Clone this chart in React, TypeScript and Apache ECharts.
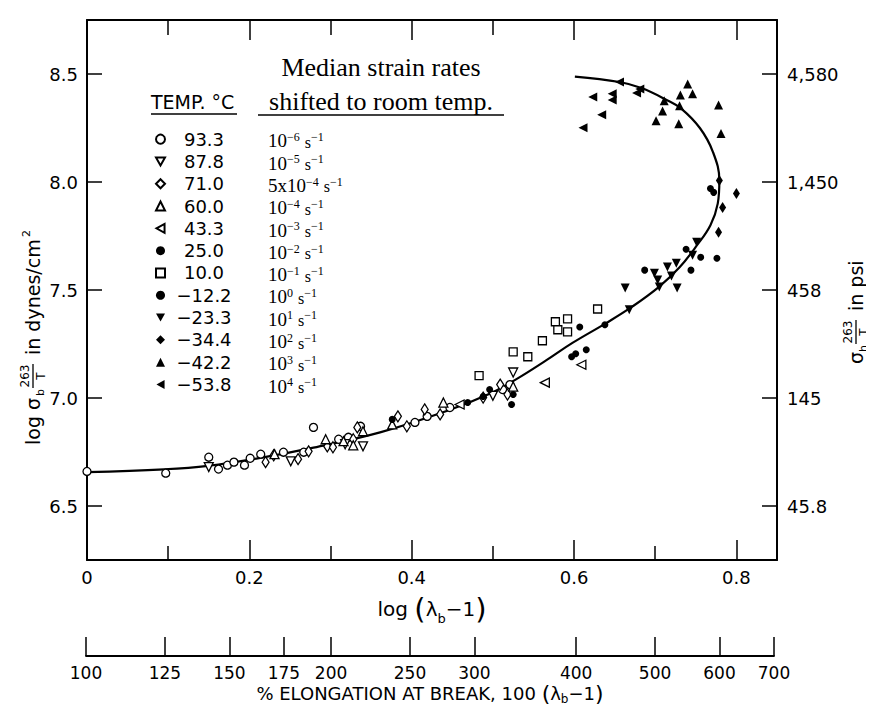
import React, { useEffect, useRef } from "react";
import * as echarts from "echarts";

// ---------- data ----------
const temps = ["93.3", "87.8", "71.0", "60.0", "43.3", "25.0", "10.0", "−12.2", "−23.3", "−34.4", "−42.2", "−53.8"];
const rateBases = ["10", "10", "5x10", "10", "10", "10", "10", "10", "10", "10", "10", "10"];
const rateExps = ["−6", "−5", "−4", "−4", "−3", "−2", "−1", "0", "1", "2", "3", "4"];

const s93_3 = [[0.0, 6.66], [0.097, 6.652], [0.15, 6.726], [0.162, 6.671], [0.173, 6.689], [0.181, 6.703], [0.194, 6.689], [0.201, 6.721], [0.214, 6.74], [0.242, 6.749], [0.267, 6.749], [0.279, 6.864], [0.31, 6.809], [0.322, 6.818], [0.337, 6.869], [0.404, 6.887], [0.419, 6.915], [0.447, 6.956], [0.512, 7.039], [0.521, 7.062]];
const s87_8 = [[0.15, 6.68], [0.251, 6.707], [0.318, 6.786], [0.34, 6.776], [0.5, 7.01], [0.525, 7.118]];
const s71_0 = [[0.22, 6.703], [0.23, 6.735], [0.26, 6.717], [0.273, 6.753], [0.296, 6.776], [0.303, 6.772], [0.328, 6.809], [0.333, 6.864], [0.383, 6.915], [0.394, 6.869], [0.416, 6.947], [0.435, 6.924], [0.488, 7.002], [0.509, 7.062], [0.518, 7.016]];
const s60_0 = [[0.231, 6.74], [0.294, 6.809], [0.316, 6.8], [0.328, 6.781], [0.34, 6.846], [0.376, 6.878], [0.439, 6.979], [0.525, 7.053]];
const s43_3 = [[0.459, 6.97], [0.564, 7.071], [0.609, 7.154]];
const s25_0 = [[0.376, 6.901], [0.469, 6.979], [0.488, 7.007], [0.496, 7.039], [0.523, 6.97], [0.525, 7.016], [0.597, 7.191], [0.602, 7.205], [0.615, 7.223], [0.607, 7.329]];
const s10_0 = [[0.483, 7.104], [0.525, 7.214], [0.543, 7.191], [0.561, 7.265], [0.577, 7.353], [0.58, 7.316], [0.592, 7.366], [0.592, 7.306], [0.629, 7.412]];
const sm12_2 = [[0.638, 7.339], [0.687, 7.592], [0.738, 7.689], [0.744, 7.592], [0.756, 7.652], [0.776, 7.647], [0.768, 7.97], [0.772, 7.952]];
const sm23_3 = [[0.663, 7.509], [0.668, 7.408], [0.699, 7.578], [0.703, 7.546], [0.705, 7.514], [0.715, 7.606], [0.72, 7.565], [0.726, 7.624], [0.727, 7.509], [0.746, 7.661], [0.751, 7.721]];
const sm34_4 = [[0.8, 7.947], [0.783, 7.882], [0.778, 7.767], [0.779, 8.007]];
const sm42_2 = [[0.701, 8.283], [0.709, 8.329], [0.711, 8.376], [0.729, 8.27], [0.73, 8.353], [0.731, 8.403], [0.74, 8.454], [0.746, 8.408], [0.778, 8.357], [0.781, 8.224]];
const sm53_8 = [[0.611, 8.251], [0.623, 8.394], [0.634, 8.311], [0.647, 8.408], [0.647, 8.38], [0.656, 8.463], [0.677, 8.412], [0.681, 8.431]];
const seriesData = [s93_3, s87_8, s71_0, s60_0, s43_3, s25_0, s10_0, sm12_2, sm23_3, sm34_4, sm42_2, sm53_8];

const curveX = [0, 0.095, 0.149, 0.217, 0.279, 0.361, 0.443, 0.496, 0.528, 0.566, 0.598, 0.64, 0.672, 0.705, 0.73, 0.751, 0.768, 0.777, 0.779, 0.771, 0.755, 0.732, 0.714, 0.683, 0.656, 0.601];
const curveY = [6.657, 6.67, 6.686, 6.725, 6.77, 6.841, 6.94, 7.02, 7.085, 7.175, 7.255, 7.348, 7.424, 7.516, 7.605, 7.705, 7.8, 7.9, 8.007, 8.14, 8.25, 8.34, 8.38, 8.435, 8.463, 8.488];

const yTicks = [6.5, 7.0, 7.5, 8.0, 8.5];
const psiLabels = ["45.8", "145", "458", "1,450", "4,580"];
const xMajorTicks = [0, 0.2, 0.4, 0.6, 0.8];
const xMinorTicks = [0.1, 0.3, 0.5, 0.7];
const elongationTicks = [100, 125, 150, 175, 200, 250, 300, 400, 500, 600, 700];

// ---------- styles ----------
const TRI_DOWN = "path://M0,0L10,0L5,9Z";
const TRI_LEFT = "path://M0,5L9,0L9,10Z";
const symbolShapes = ["circle", TRI_DOWN, "diamond", "triangle", TRI_LEFT, "circle", "rect", "circle", TRI_DOWN, "diamond", "triangle", TRI_LEFT];
const symbolHollow = [true, true, true, true, true, false, true, false, false, false, false, false];
const symbolSizes: any[] = [8, 9, [7, 11], 9, 9, 7, 8, 7, 9, [7, 11], 9, 9];

const SANS = "DejaVu Sans";
const SERIF = "Liberation Serif";

export default function App() {
  const ref = useRef<HTMLDivElement>(null);
  useEffect(() => {
    if (!ref.current) return;
    const chart = echarts.init(ref.current, undefined, { renderer: "svg" });

    const G0 = { left: 87, top: 20, width: 690, height: 540 };
    const XMAX = 0.85;

    const scatter = temps.map((t, i) => ({
      name: t,
      type: "scatter",
      xAxisIndex: 0,
      yAxisIndex: 0,
      data: seriesData[i],
      symbol: symbolShapes[i],
      symbolSize: symbolSizes[i],
      z: 4,
      itemStyle: symbolHollow[i]
        ? { color: "#fff", borderColor: "#000", borderWidth: 1.3, opacity: 1 }
        : { color: "#000", borderColor: "#000", borderWidth: 0, opacity: 1 },
    }));

    const curve = {
      name: "fit",
      type: "line",
      xAxisIndex: 0,
      yAxisIndex: 0,
      data: curveX.map((x, i) => [x, curveY[i]]),
      smooth: 0.4,
      showSymbol: false,
      symbol: "none",
      lineStyle: { color: "#000", width: 2.2 },
      z: 2,
    };

    const LH = 22.3;
    const legendRich: any = {
      t: { fontFamily: SANS, fontSize: 18, width: 68, align: "right", color: "#000", lineHeight: LH, verticalAlign: "middle" },
      g: { width: 30 },
      b: { fontFamily: SERIF, fontSize: 19, color: "#000", lineHeight: LH, verticalAlign: "bottom" },
      s: { fontFamily: SERIF, fontSize: 12, color: "#000", lineHeight: 12, verticalAlign: "top", padding: [3, 0, 0, 0] },
      u: { fontFamily: SERIF, fontSize: 16, color: "#000", lineHeight: LH, verticalAlign: "bottom", padding: [0, 0, 0, 5] },
    };

    const axisLine = { show: true, onZero: false, lineStyle: { color: "#000", width: 2 } };

    const leftName = {
      type: "group",
      x: 33,
      y: 295,
      rotation: Math.PI / 2,
      children: [
        { type: "text", x: -150, y: 0, style: { text: "log σ", fontFamily: SANS, fontSize: 19, fill: "#000", align: "left", verticalAlign: "middle" } },
        { type: "text", x: -101, y: 7, style: { text: "b", fontFamily: SANS, fontSize: 11, fill: "#000", align: "left", verticalAlign: "middle" } },
        { type: "text", x: -81, y: -8, style: { text: "263", fontFamily: SANS, fontSize: 12, fill: "#000", align: "center", verticalAlign: "middle" } },
        { type: "line", shape: { x1: -93, y1: 0, x2: -69, y2: 0 }, style: { stroke: "#000", lineWidth: 1.3 } },
        { type: "text", x: -81, y: 8, style: { text: "T", fontFamily: SANS, fontSize: 12, fill: "#000", align: "center", verticalAlign: "middle" } },
        { type: "text", x: -60, y: 0, style: { text: "in dynes/cm", fontFamily: SANS, fontSize: 19, fill: "#000", align: "left", verticalAlign: "middle" } },
        { type: "text", x: 58, y: -7, style: { text: "2", fontFamily: SANS, fontSize: 11, fill: "#000", align: "left", verticalAlign: "middle" } },
      ],
    };

    const rightName = {
      type: "group",
      x: 856,
      y: 298,
      rotation: Math.PI / 2,
      children: [
        { type: "text", x: -66, y: 0, style: { text: "σ", fontFamily: SANS, fontSize: 19, fill: "#000", align: "left", verticalAlign: "middle" } },
        { type: "text", x: -54, y: 7, style: { text: "h", fontFamily: SANS, fontSize: 11, fill: "#000", align: "left", verticalAlign: "middle" } },
        { type: "text", x: -34, y: -8, style: { text: "263", fontFamily: SANS, fontSize: 12, fill: "#000", align: "center", verticalAlign: "middle" } },
        { type: "line", shape: { x1: -46, y1: 0, x2: -22, y2: 0 }, style: { stroke: "#000", lineWidth: 1.3 } },
        { type: "text", x: -34, y: 8, style: { text: "T", fontFamily: SANS, fontSize: 12, fill: "#000", align: "center", verticalAlign: "middle" } },
        { type: "text", x: -13, y: 0, style: { text: "in psi", fontFamily: SANS, fontSize: 19, fill: "#000", align: "left", verticalAlign: "middle" } },
      ],
    };

    const option: any = {
      animation: false,
      backgroundColor: "#fff",
      grid: [
        { ...G0, containLabel: false },
        { left: 86, top: 655, width: 688, height: 1, containLabel: false },
        { ...G0, containLabel: false },
      ],
      xAxis: [
        {
          gridIndex: 0, type: "value", position: "bottom", min: 0, max: XMAX,
          axisLine,
          axisTick: { show: true, inside: true, length: 20, customValues: xMajorTicks.slice(1), lineStyle: { color: "#000", width: 1.5 } },
          axisLabel: { show: true, customValues: xMajorTicks, margin: 8, fontFamily: SANS, fontSize: 18, color: "#000", formatter: (v: number) => (v === 0 ? "0" : v.toFixed(1)) },
          splitLine: { show: false },
          name: "{a|log }{p|(}{a|λ}{s|b}{a|−1}{p|)}",
          nameLocation: "middle",
          nameGap: 33,
          nameTextStyle: {
            rich: {
              a: { fontFamily: SANS, fontSize: 20, color: "#000", lineHeight: 32, verticalAlign: "middle" },
              p: { fontFamily: SANS, fontSize: 29, color: "#000", lineHeight: 32, verticalAlign: "middle" },
              s: { fontFamily: SANS, fontSize: 13, color: "#000", lineHeight: 14, verticalAlign: "bottom" },
            },
          },
        },
        {
          gridIndex: 0, type: "value", position: "top", min: 0, max: XMAX,
          axisLine,
          axisTick: { show: true, inside: true, length: 20, customValues: xMajorTicks.slice(1), lineStyle: { color: "#000", width: 1.5 } },
          axisLabel: { show: false },
          splitLine: { show: false },
        },
        {
          gridIndex: 1, type: "value", position: "bottom", min: 0, max: Math.log10(7),
          axisLine: { show: true, onZero: false, lineStyle: { color: "#000", width: 1.8 } },
          axisTick: { show: true, inside: true, length: 19, customValues: elongationTicks.map((v) => Math.log10(v / 100)), lineStyle: { color: "#000", width: 1.5 } },
          axisLabel: {
            show: true, customValues: elongationTicks.map((v) => Math.log10(v / 100)), margin: 8,
            fontFamily: SANS, fontSize: 17, color: "#000",
            formatter: (v: number) => String(Math.round(100 * Math.pow(10, v))),
          },
          splitLine: { show: false },
          name: "% ELONGATION AT BREAK, 100 {p|(}λ{s|b}−1{p|)}",
          nameLocation: "middle",
          nameGap: 25,
          nameTextStyle: {
            fontFamily: SANS, fontSize: 18, color: "#000",
            rich: {
              p: { fontFamily: SANS, fontSize: 22, color: "#000", lineHeight: 24, verticalAlign: "middle" },
              s: { fontFamily: SANS, fontSize: 12, color: "#000", lineHeight: 12, verticalAlign: "bottom" },
            },
          },
        },
        {
          gridIndex: 2, type: "value", position: "bottom", min: 0, max: XMAX,
          axisLine: { show: false },
          axisTick: { show: true, inside: true, length: 14, customValues: xMinorTicks, lineStyle: { color: "#000", width: 1.5 } },
          axisLabel: { show: false },
          splitLine: { show: false },
        },
        {
          gridIndex: 2, type: "value", position: "top", min: 0, max: XMAX,
          axisLine: { show: false },
          axisTick: { show: true, inside: true, length: 15, customValues: xMinorTicks, lineStyle: { color: "#000", width: 1.5 } },
          axisLabel: { show: false },
          splitLine: { show: false },
        },
      ],
      yAxis: [
        {
          gridIndex: 0, type: "value", position: "left", min: 6.25, max: 8.75,
          axisLine,
          axisTick: { show: true, inside: true, length: 15, customValues: yTicks, lineStyle: { color: "#000", width: 1.5 } },
          axisLabel: { show: true, customValues: yTicks, margin: 9, fontFamily: SANS, fontSize: 18, color: "#000", formatter: (v: number) => v.toFixed(1) },
          splitLine: { show: false },
        },
        {
          gridIndex: 0, type: "value", position: "right", min: 6.25, max: 8.75,
          axisLine,
          axisTick: { show: true, inside: true, length: 15, customValues: yTicks, lineStyle: { color: "#000", width: 1.5 } },
          axisLabel: {
            show: true, customValues: yTicks, margin: 10, fontFamily: SANS, fontSize: 18, color: "#000",
            formatter: (v: number) => { const k = yTicks.findIndex((t) => Math.abs(t - v) < 1e-6); return k >= 0 ? psiLabels[k] : ""; },
          },
          splitLine: { show: false },
        },
        { gridIndex: 1, type: "value", min: 0, max: 1, show: false },
        { gridIndex: 2, type: "value", min: 6.25, max: 8.75, show: false },
      ],
      legend: {
        show: true,
        orient: "vertical",
        left: 150,
        top: 123,
        itemWidth: 9,
        itemHeight: 9,
        itemGap: 0,
        selectedMode: false,
        data: temps,
        formatter: (name: string) => {
          const i = temps.indexOf(name);
          return `{t|${name}}{g|}{b|${rateBases[i]}}{s|${rateExps[i]}}{u|s}{s|−1}`;
        },
        textStyle: { rich: legendRich },
      },
      graphic: [
        { type: "text", x: 381, y: 67, style: { text: "Median strain rates", fontFamily: SERIF, fontSize: 26, fill: "#000", align: "center", verticalAlign: "middle" } },
        { type: "text", x: 381, y: 101, style: { text: "shifted to room temp.", fontFamily: SERIF, fontSize: 26, fill: "#000", align: "center", verticalAlign: "middle" } },
        { type: "line", shape: { x1: 258, y1: 115, x2: 504, y2: 115 }, style: { stroke: "#000", lineWidth: 1.5 } },
        { type: "text", x: 151, y: 102, style: { text: "TEMP. °C", fontFamily: SANS, fontSize: 19, fill: "#000", align: "left", verticalAlign: "middle" } },
        { type: "line", shape: { x1: 151, y1: 114, x2: 237, y2: 114 }, style: { stroke: "#000", lineWidth: 1.5 } },
        leftName,
        rightName,
      ],
      series: [curve, ...scatter],
    };

    chart.setOption(option);
    return () => chart.dispose();
  }, []);

  return <div ref={ref} style={{ width: 874, height: 710, marginLeft: -8, marginTop: -8, background: "#fff" }} />;
}
